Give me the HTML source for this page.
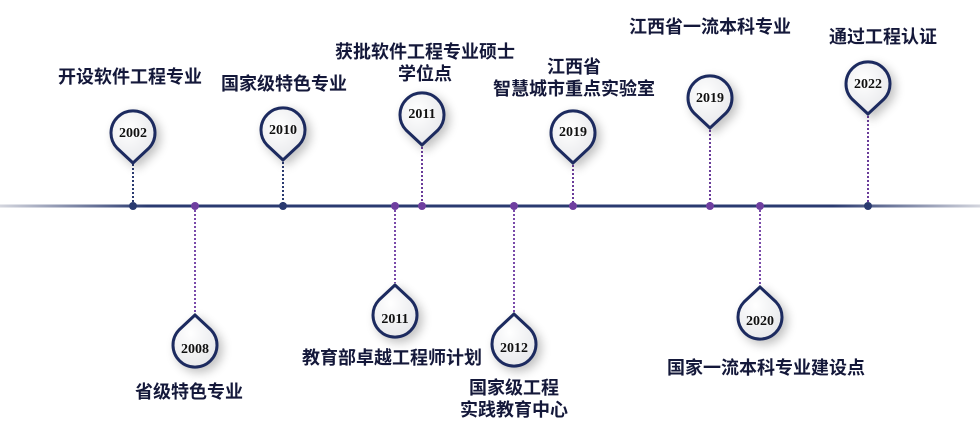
<!DOCTYPE html>
<html><head><meta charset="utf-8"><style>
body{margin:0;width:980px;height:446px;background:#fff;overflow:hidden;position:relative;font-family:"Liberation Sans","Noto Sans CJK SC",sans-serif}
.t{position:absolute;font-size:18px;font-weight:bold;color:#14183a;white-space:nowrap;line-height:22px;text-align:center;transform:translateX(-50%)}
svg{position:absolute;left:0;top:0}
</style></head><body>
<svg width="980" height="446" viewBox="0 0 980 446">
<defs>
<linearGradient id="lg" x1="0" x2="1"><stop offset="0" stop-color="#d4d6de"/><stop offset="0.15" stop-color="#2a3a70"/><stop offset="0.85" stop-color="#2a3a70"/><stop offset="1" stop-color="#d4d6de"/></linearGradient>
<radialGradient id="pg" cx="0.4" cy="0.35" r="0.7"><stop offset="0" stop-color="#fff"/><stop offset="1" stop-color="#e6e7ea"/></radialGradient>
<filter id="sh" x="-50%" y="-50%" width="200%" height="200%"><feGaussianBlur in="SourceAlpha" stdDeviation="5"/><feOffset dx="4" dy="4"/><feComponentTransfer><feFuncA type="linear" slope="0.25"/></feComponentTransfer><feMerge><feMergeNode/><feMergeNode in="SourceGraphic"/></feMerge></filter>
</defs>
<rect x="0" y="204.5" width="980" height="3" fill="url(#lg)"/>
<g stroke-width="2" stroke-dasharray="2,2" fill="none">
<line x1="133" y1="164" x2="133" y2="206" stroke="#2a3a70"/>
<line x1="283" y1="162" x2="283" y2="206" stroke="#2a3a70"/>
<line x1="422" y1="147" x2="422" y2="206" stroke="#6a3c9a"/>
<line x1="573" y1="165" x2="573" y2="206" stroke="#6a3c9a"/>
<line x1="710" y1="130" x2="710" y2="206" stroke="#6a3c9a"/>
<line x1="868" y1="116" x2="868" y2="206" stroke="#6a3c9a"/>
<line x1="195" y1="206" x2="195" y2="313" stroke="#7a4aaa"/>
<line x1="395" y1="206" x2="395" y2="283" stroke="#7a4aaa"/>
<line x1="514" y1="206" x2="514" y2="312" stroke="#7a4aaa"/>
<line x1="760" y1="206" x2="760" y2="285" stroke="#7a4aaa"/>
</g>
<g fill="#2a3a70"><circle cx="133" cy="206" r="4"/><circle cx="283" cy="206" r="4"/><circle cx="868" cy="206" r="4"/></g>
<g fill="#6f3fa0"><circle cx="195" cy="206" r="4"/><circle cx="395" cy="206" r="4"/><circle cx="422" cy="206" r="4"/><circle cx="514" cy="206" r="4"/><circle cx="573" cy="206" r="4"/><circle cx="710" cy="206" r="4"/><circle cx="760" cy="206" r="4"/></g>
<g fill="url(#pg)" stroke="#1c2b5e" stroke-width="3" filter="url(#sh)">
<path d="M133,163 L117,148 A22,22 0 1 1 149,148 Z"/>
<path d="M283,160 L267,145 A22,22 0 1 1 299,145 Z"/>
<path d="M422,145 L406,130 A22,22 0 1 1 438,130 Z"/>
<path d="M573,163 L557,148 A22,22 0 1 1 589,148 Z"/>
<path d="M710,128 L694,113 A22,22 0 1 1 726,113 Z"/>
<path d="M868,114 L852,99 A22,22 0 1 1 884,99 Z"/>
<path d="M195,315 L179,330 A22,22 0 1 0 211,330 Z"/>
<path d="M395,285 L379,300 A22,22 0 1 0 411,300 Z"/>
<path d="M514,314 L498,329 A22,22 0 1 0 530,329 Z"/>
<path d="M760,287 L744,302 A22,22 0 1 0 776,302 Z"/>
</g>
<g font-family="Liberation Serif,serif" font-weight="bold" font-size="14" fill="#111" text-anchor="middle">
<text x="133" y="137">2002</text><text x="283" y="134">2010</text><text x="422" y="118">2011</text>
<text x="573" y="136">2019</text><text x="710" y="102">2019</text><text x="868" y="88">2022</text>
<text x="195" y="353">2008</text><text x="395" y="323">2011</text><text x="514" y="352">2012</text><text x="760" y="325">2020</text>
</g>
</svg>
<div class="t" style="left:130px;top:66px">开设软件工程专业</div>
<div class="t" style="left:284px;top:73px">国家级特色专业</div>
<div class="t" style="left:425px;top:41px">获批软件工程专业硕士<br>学位点</div>
<div class="t" style="left:574px;top:56px">江西省<br>智慧城市重点实验室</div>
<div class="t" style="left:710px;top:16px">江西省一流本科专业</div>
<div class="t" style="left:883px;top:26px">通过工程认证</div>
<div class="t" style="left:189px;top:381px">省级特色专业</div>
<div class="t" style="left:392px;top:347px">教育部卓越工程师计划</div>
<div class="t" style="left:514px;top:377px">国家级工程<br>实践教育中心</div>
<div class="t" style="left:766px;top:357px">国家一流本科专业建设点</div>
</body></html>
